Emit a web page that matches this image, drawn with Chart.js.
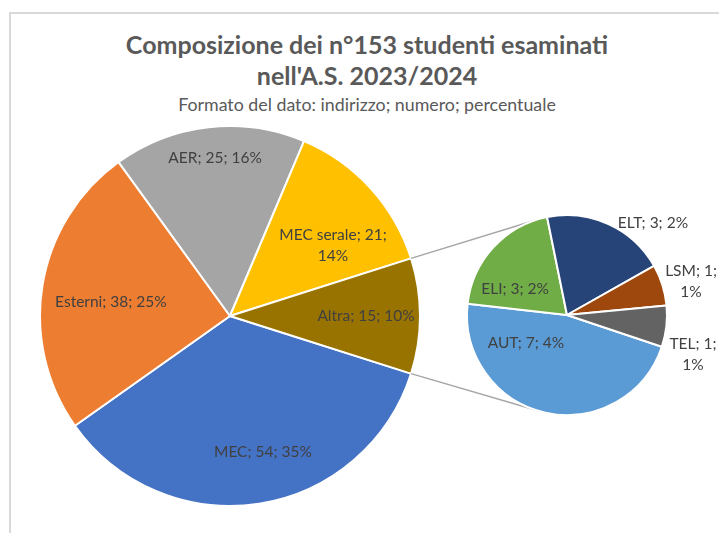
<!DOCTYPE html>
<html><head><meta charset="utf-8">
<script src="https://cdn.jsdelivr.net/npm/chart.js@4"></script>
<style>
html,body{margin:0;padding:0;background:#fff;}
#wrap{position:relative;width:719px;height:533px;overflow:hidden;background:#fff;font-family:Lato,"Open Sans",sans-serif;}
#frame{position:absolute;left:9px;top:12px;width:800px;height:600px;border-top:2px solid #d9d9d9;border-left:2px solid #d9d9d9;}
.t{position:absolute;left:0;width:734px;text-align:center;color:#595959;white-space:nowrap;}
#t1{top:29px;font-weight:bold;font-size:25px;line-height:31px;}
#t2{top:93px;font-size:17.8px;line-height:22px;}
canvas{position:absolute;}
#main{left:39px;top:125px;}
#sub{left:400px;top:180px;}
</style></head><body>
<div id="wrap">
<div id="frame"></div>
<div class="t" id="t1">Composizione dei n°153 studenti esaminati<br>nell'A.S. 2023/2024</div>
<div class="t" id="t2">Formato del dato: indirizzo; numero; percentuale</div>
<canvas id="main" width="382" height="382" style="width:382px;height:382px"></canvas>
<canvas id="sub" width="319" height="280" style="width:319px;height:280px"></canvas>
</div>
<script>
// ---- data ----
const mainCategories = ['MEC', 'Esterni', 'AER', 'MEC serale', 'Altra'];
const mainValues = [54, 38, 25, 21, 15];
const mainPercents = [35, 25, 16, 14, 10];
const subCategories = ['AUT', 'ELI', 'ELT', 'LSM', 'TEL'];
const subValues = [7, 3, 3, 1, 1];
const subPercents = [4, 2, 2, 1, 1];

// ---- styles / layout ----
const mainColors = ['#4472C4', '#ED7D31', '#A5A5A5', '#FFC000', '#997300'];
const subColors = ['#5B9BD5', '#70AD47', '#264478', '#9E480E', '#636363'];
// label placement: polar angle (deg, clockwise from 3 o'clock), distance in radii
const mainLabelPlacement = [{a:76.4,d:0.737},{a:186.7,d:0.631},{a:264.6,d:0.835},{a:325.6,d:0.657,wrap:true},{a:0,d:0.716}];
const subLabelPlacement = [{a:145.7,d:0.497},{a:206.6,d:0.58},{a:313,d:1.26},{a:344.7,d:1.286,wrap:true},{a:17.2,d:1.319,wrap:true}];
const labelFont = '15.5px Lato, "Open Sans", sans-serif';
const labelColor = '#404040';

function labelLines(cat, val, pct, wrap) {
  return wrap ? [cat + '; ' + val + ';', pct + '%'] : [cat + '; ' + val + '; ' + pct + '%'];
}

const labelPlugin = {
  id: 'sliceLabels',
  afterDatasetsDraw(chart, args, opts) {
    const meta = chart.getDatasetMeta(0);
    const arc0 = meta.data[0];
    const cx = arc0.x, cy = arc0.y, r = arc0.outerRadius;
    const ctx = chart.ctx;
    ctx.save();
    ctx.font = opts.font;
    ctx.fillStyle = opts.color;
    ctx.textAlign = 'center';
    ctx.textBaseline = 'middle';
    opts.placement.forEach((p, i) => {
      const ang = p.a * Math.PI / 180;
      const x = cx + Math.cos(ang) * p.d * r;
      const y = cy + Math.sin(ang) * p.d * r;
      const lines = labelLines(opts.categories[i], opts.values[i], opts.percents[i], p.wrap);
      lines.forEach((ln, k) => ctx.fillText(ln, x, y + (k - (lines.length - 1) / 2) * opts.lineHeight));
    });
    ctx.restore();
  }
};

const mainCanvas = document.getElementById('main');
const subCanvas = document.getElementById('sub');
const mainTotal = mainValues.reduce((a, b) => a + b, 0);
const altraShare = mainValues[mainValues.length - 1] / mainTotal * 360;

const mainChart = new Chart(mainCanvas, {
  type: 'pie',
  data: {
    labels: mainCategories,
    datasets: [{ data: mainValues, backgroundColor: mainColors, borderColor: '#ffffff', borderWidth: 2 }]
  },
  options: {
    responsive: false,
    animation: false,
    rotation: 90 + altraShare / 2,
    layout: { padding: 0 },
    events: [],
    plugins: {
      legend: { display: false },
      tooltip: { enabled: false },
      sliceLabels: { placement: mainLabelPlacement, categories: mainCategories, values: mainValues, percents: mainPercents, font: labelFont, color: labelColor, lineHeight: 21 }
    }
  },
  plugins: [labelPlugin]
});

const connectorPlugin = {
  id: 'connectors',
  beforeDatasetsDraw(chart) {
    const mMeta = mainChart.getDatasetMeta(0);
    const mArc = mMeta.data[mMeta.data.length - 1];
    const offX = mainCanvas.offsetLeft - chart.canvas.offsetLeft;
    const offY = mainCanvas.offsetTop - chart.canvas.offsetTop;
    const sArc = chart.getDatasetMeta(0).data[0];
    const sx = sArc.x, sy = sArc.y, sr = sArc.outerRadius;
    const ctx = chart.ctx;
    ctx.save();
    ctx.strokeStyle = '#a6a6a6';
    ctx.lineWidth = 1.5;
    [mArc.startAngle, mArc.endAngle].forEach((a, idx) => {
      const px = mArc.x + Math.cos(a) * mArc.outerRadius + offX;
      const py = mArc.y + Math.sin(a) * mArc.outerRadius + offY;
      const vx = px - sx, vy = py - sy;
      const d = Math.hypot(vx, vy);
      const base = Math.atan2(vy, vx);
      const off = Math.acos(sr / d);
      const t = idx === 0 ? base + off : base - off;
      ctx.beginPath();
      ctx.moveTo(px, py);
      ctx.lineTo(sx + Math.cos(t) * sr, sy + Math.sin(t) * sr);
      ctx.stroke();
    });
    ctx.restore();
  }
};

new Chart(subCanvas, {
  type: 'pie',
  data: {
    labels: subCategories,
    datasets: [{ data: subValues, backgroundColor: subColors, borderColor: '#ffffff', borderWidth: 2 }]
  },
  options: {
    responsive: false,
    animation: false,
    rotation: 108.5,
    layout: { padding: { left: 66, right: 51, top: 34, bottom: 44 } },
    events: [],
    plugins: {
      legend: { display: false },
      tooltip: { enabled: false },
      sliceLabels: { placement: subLabelPlacement, categories: subCategories, values: subValues, percents: subPercents, font: labelFont, color: labelColor, lineHeight: 21 }
    }
  },
  plugins: [connectorPlugin, labelPlugin]
});
</script>
</body></html>
